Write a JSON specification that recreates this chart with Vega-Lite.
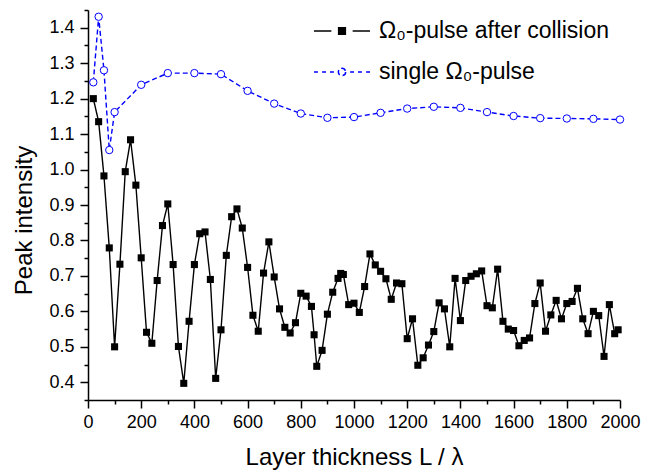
{
  "$schema": "https://vega.github.io/schema/vega-lite/v6.json",
  "width": 532,
  "height": 390,
  "autosize": {"type": "none"},
  "padding": {"left": 88, "top": 10, "right": 37, "bottom": 72},
  "background": "white",
  "config": {"view": {"stroke": null}, "font": "Liberation Sans"},
  "data": {"values": [
    {"L": 20, "I": 1.200, "series": "collision"},
    {"L": 40, "I": 1.135, "series": "collision"},
    {"L": 60, "I": 0.982, "series": "collision"},
    {"L": 80, "I": 0.779, "series": "collision"},
    {"L": 100, "I": 0.500, "series": "collision"},
    {"L": 120, "I": 0.733, "series": "collision"},
    {"L": 140, "I": 0.994, "series": "collision"},
    {"L": 160, "I": 1.084, "series": "collision"},
    {"L": 180, "I": 0.956, "series": "collision"},
    {"L": 200, "I": 0.751, "series": "collision"},
    {"L": 220, "I": 0.541, "series": "collision"},
    {"L": 240, "I": 0.510, "series": "collision"},
    {"L": 260, "I": 0.687, "series": "collision"},
    {"L": 280, "I": 0.842, "series": "collision"},
    {"L": 300, "I": 0.903, "series": "collision"},
    {"L": 320, "I": 0.732, "series": "collision"},
    {"L": 340, "I": 0.501, "series": "collision"},
    {"L": 360, "I": 0.397, "series": "collision"},
    {"L": 380, "I": 0.572, "series": "collision"},
    {"L": 400, "I": 0.732, "series": "collision"},
    {"L": 420, "I": 0.819, "series": "collision"},
    {"L": 440, "I": 0.824, "series": "collision"},
    {"L": 460, "I": 0.690, "series": "collision"},
    {"L": 480, "I": 0.411, "series": "collision"},
    {"L": 500, "I": 0.548, "series": "collision"},
    {"L": 520, "I": 0.758, "series": "collision"},
    {"L": 540, "I": 0.867, "series": "collision"},
    {"L": 560, "I": 0.889, "series": "collision"},
    {"L": 580, "I": 0.835, "series": "collision"},
    {"L": 600, "I": 0.724, "series": "collision"},
    {"L": 620, "I": 0.589, "series": "collision"},
    {"L": 640, "I": 0.544, "series": "collision"},
    {"L": 660, "I": 0.708, "series": "collision"},
    {"L": 680, "I": 0.796, "series": "collision"},
    {"L": 700, "I": 0.697, "series": "collision"},
    {"L": 720, "I": 0.607, "series": "collision"},
    {"L": 740, "I": 0.555, "series": "collision"},
    {"L": 760, "I": 0.539, "series": "collision"},
    {"L": 780, "I": 0.568, "series": "collision"},
    {"L": 800, "I": 0.651, "series": "collision"},
    {"L": 820, "I": 0.643, "series": "collision"},
    {"L": 840, "I": 0.614, "series": "collision"},
    {"L": 850, "I": 0.534, "series": "collision"},
    {"L": 860, "I": 0.445, "series": "collision"},
    {"L": 880, "I": 0.490, "series": "collision"},
    {"L": 900, "I": 0.592, "series": "collision"},
    {"L": 920, "I": 0.654, "series": "collision"},
    {"L": 940, "I": 0.693, "series": "collision"},
    {"L": 950, "I": 0.707, "series": "collision"},
    {"L": 960, "I": 0.704, "series": "collision"},
    {"L": 980, "I": 0.619, "series": "collision"},
    {"L": 1000, "I": 0.623, "series": "collision"},
    {"L": 1020, "I": 0.597, "series": "collision"},
    {"L": 1040, "I": 0.670, "series": "collision"},
    {"L": 1060, "I": 0.762, "series": "collision"},
    {"L": 1080, "I": 0.731, "series": "collision"},
    {"L": 1100, "I": 0.713, "series": "collision"},
    {"L": 1120, "I": 0.692, "series": "collision"},
    {"L": 1140, "I": 0.634, "series": "collision"},
    {"L": 1160, "I": 0.680, "series": "collision"},
    {"L": 1180, "I": 0.678, "series": "collision"},
    {"L": 1200, "I": 0.523, "series": "collision"},
    {"L": 1220, "I": 0.579, "series": "collision"},
    {"L": 1240, "I": 0.448, "series": "collision"},
    {"L": 1260, "I": 0.469, "series": "collision"},
    {"L": 1280, "I": 0.505, "series": "collision"},
    {"L": 1300, "I": 0.543, "series": "collision"},
    {"L": 1320, "I": 0.624, "series": "collision"},
    {"L": 1340, "I": 0.607, "series": "collision"},
    {"L": 1360, "I": 0.500, "series": "collision"},
    {"L": 1380, "I": 0.693, "series": "collision"},
    {"L": 1400, "I": 0.574, "series": "collision"},
    {"L": 1420, "I": 0.687, "series": "collision"},
    {"L": 1440, "I": 0.699, "series": "collision"},
    {"L": 1460, "I": 0.706, "series": "collision"},
    {"L": 1480, "I": 0.714, "series": "collision"},
    {"L": 1500, "I": 0.616, "series": "collision"},
    {"L": 1520, "I": 0.610, "series": "collision"},
    {"L": 1540, "I": 0.719, "series": "collision"},
    {"L": 1560, "I": 0.572, "series": "collision"},
    {"L": 1580, "I": 0.550, "series": "collision"},
    {"L": 1600, "I": 0.546, "series": "collision"},
    {"L": 1620, "I": 0.503, "series": "collision"},
    {"L": 1640, "I": 0.518, "series": "collision"},
    {"L": 1660, "I": 0.525, "series": "collision"},
    {"L": 1680, "I": 0.622, "series": "collision"},
    {"L": 1700, "I": 0.680, "series": "collision"},
    {"L": 1720, "I": 0.544, "series": "collision"},
    {"L": 1740, "I": 0.590, "series": "collision"},
    {"L": 1760, "I": 0.631, "series": "collision"},
    {"L": 1780, "I": 0.579, "series": "collision"},
    {"L": 1800, "I": 0.622, "series": "collision"},
    {"L": 1820, "I": 0.628, "series": "collision"},
    {"L": 1840, "I": 0.665, "series": "collision"},
    {"L": 1860, "I": 0.579, "series": "collision"},
    {"L": 1880, "I": 0.537, "series": "collision"},
    {"L": 1900, "I": 0.600, "series": "collision"},
    {"L": 1920, "I": 0.588, "series": "collision"},
    {"L": 1940, "I": 0.473, "series": "collision"},
    {"L": 1960, "I": 0.619, "series": "collision"},
    {"L": 1980, "I": 0.537, "series": "collision"},
    {"L": 1993, "I": 0.548, "series": "collision"},
    {"L": 20, "I": 1.246, "series": "single"},
    {"L": 40, "I": 1.431, "series": "single"},
    {"L": 60, "I": 1.280, "series": "single"},
    {"L": 80, "I": 1.055, "series": "single"},
    {"L": 100, "I": 1.162, "series": "single"},
    {"L": 200, "I": 1.239, "series": "single"},
    {"L": 300, "I": 1.272, "series": "single"},
    {"L": 400, "I": 1.272, "series": "single"},
    {"L": 500, "I": 1.269, "series": "single"},
    {"L": 600, "I": 1.222, "series": "single"},
    {"L": 700, "I": 1.186, "series": "single"},
    {"L": 800, "I": 1.158, "series": "single"},
    {"L": 900, "I": 1.146, "series": "single"},
    {"L": 1000, "I": 1.148, "series": "single"},
    {"L": 1100, "I": 1.160, "series": "single"},
    {"L": 1200, "I": 1.172, "series": "single"},
    {"L": 1300, "I": 1.177, "series": "single"},
    {"L": 1400, "I": 1.174, "series": "single"},
    {"L": 1500, "I": 1.162, "series": "single"},
    {"L": 1600, "I": 1.151, "series": "single"},
    {"L": 1700, "I": 1.145, "series": "single"},
    {"L": 1800, "I": 1.144, "series": "single"},
    {"L": 1900, "I": 1.143, "series": "single"},
    {"L": 2000, "I": 1.141, "series": "single"}
  ]},
  "encoding": {
    "x": {
      "field": "L", "type": "quantitative",
      "scale": {"domain": [0, 2000], "nice": false, "zero": false},
      "axis": {
        "values": [0,100,200,300,400,500,600,700,800,900,1000,1100,1200,1300,1400,1500,1600,1700,1800,1900,2000],
        "format": "d",
        "labelExpr": "datum.value % 200 === 0 ? datum.label : ''",
        "tickSize": {"condition": {"test": "datum.value % 200 === 0", "value": 8}, "value": 4},
        "tickWidth": 1.5, "tickColor": "black",
        "domainWidth": 1.5, "domainColor": "black",
        "labelColor": "black", "labelFontSize": 18, "labelFont": "Liberation Sans",
        "labelPadding": 5, "labelFlush": false, "labelOverlap": false,
        "grid": false,
        "title": "Layer thickness L / λ",
        "titleFont": "Liberation Sans", "titleFontSize": 24, "titleFontWeight": "normal", "titleColor": "black",
        "titleBaseline": "alphabetic", "titleY": 64
      }
    },
    "y": {
      "field": "I", "type": "quantitative",
      "scale": {"domain": [0.35, 1.45], "nice": false, "zero": false},
      "axis": {
        "values": [0.35,0.4,0.45,0.5,0.55,0.6,0.65,0.7,0.75,0.8,0.85,0.9,0.95,1.0,1.05,1.1,1.15,1.2,1.25,1.3,1.35,1.4,1.45],
        "labelExpr": "round(datum.value*20) % 2 === 0 ? format(datum.value, '.1f') : ''",
        "tickSize": {"condition": {"test": "round(datum.value*20) % 2 === 0", "value": 8}, "value": 4},
        "tickWidth": 1.5, "tickColor": "black",
        "domainWidth": 1.5, "domainColor": "black",
        "labelColor": "black", "labelFontSize": 18, "labelFont": "Liberation Sans",
        "labelPadding": 6, "labelOverlap": false, "labelFlush": false,
        "grid": false,
        "title": "Peak intensity",
        "titleFont": "Liberation Sans", "titleFontSize": 24, "titleFontWeight": "normal", "titleColor": "black",
        "titleBaseline": "alphabetic", "titleX": -57, "titleY": 210
      }
    }
  },
  "layer": [
    {
      "mark": {"type": "line", "strokeWidth": 1.4},
      "encoding": {
        "color": {
          "field": "series", "type": "nominal",
          "scale": {"domain": ["collision", "single"], "range": ["black", "#0000ff"]},
          "legend": {
            "orient": "none", "legendX": 225, "legendY": -8,
            "title": null, "padding": 0,
            "labelExpr": "datum.value === 'collision' ? 'Ω₀-pulse after collision' : 'single Ω₀-pulse'",
            "labelFontSize": 23, "labelFont": "Liberation Sans", "labelColor": "black", "labelLimit": 400,
            "symbolSize": 3136, "symbolStrokeWidth": 1.5, "labelOffset": 8, "rowPadding": -4,
            "encode": {"symbols": {"update": {
              "shape": {"signal": "datum.value === 'collision' ? 'M-1,0H-0.38M0.38,0H1M-0.12,-0.12H0.12V0.12H-0.12Z' : 'M-1,0H-0.86M-0.71,0H-0.57M-0.43,0H-0.29M0.29,0H0.43M0.57,0H0.71M0.86,0H1M0.13,0A0.13,0.13,0,1,1,-0.13,0A0.13,0.13,0,1,1,0.13,0Z'"},
              "fill": {"signal": "datum.value === 'collision' ? 'black' : 'white'"},
              "strokeDash": {"value": [1, 0]},
              "opacity": {"value": 1}
            }}}
          }
        },
        "strokeDash": {
          "field": "series", "type": "nominal",
          "scale": {"domain": ["collision", "single"], "range": [[1, 0], [5, 3]]},
          "legend": null
        }
      }
    },
    {
      "transform": [{"filter": "datum.series === 'collision'"}],
      "mark": {"type": "point", "shape": "square", "filled": true, "color": "black", "size": 50, "opacity": 1}
    },
    {
      "transform": [{"filter": "datum.series === 'single'"}],
      "mark": {"type": "point", "shape": "circle", "fill": "white", "fillOpacity": 1, "stroke": "#0000ff", "strokeWidth": 1, "size": 55, "opacity": 1}
    }
  ]
}
